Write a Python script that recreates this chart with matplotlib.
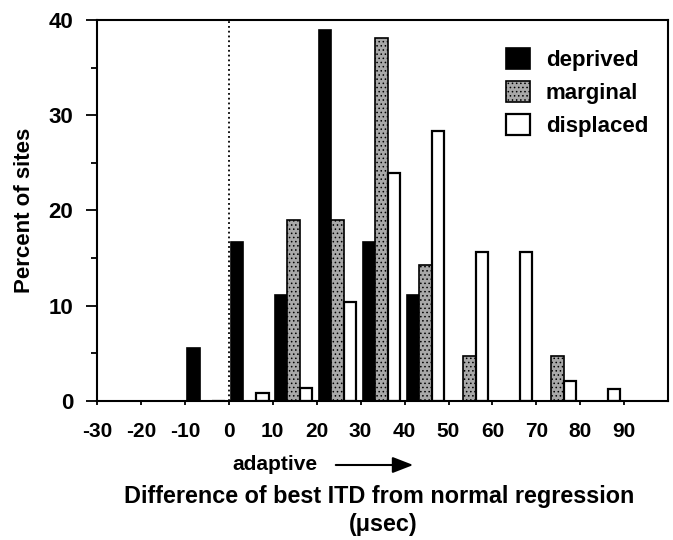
import numpy as np
import matplotlib
matplotlib.use('Agg')
import matplotlib.pyplot as plt
from matplotlib.ticker import MultipleLocator

# bin starts (usec) and percent of sites in each bin
bins = [-10, 0, 10, 20, 30, 40, 50, 60, 70, 80]
deprived = [5.6, 16.7, 11.1, 38.9, 16.7, 11.1, 0, 0, 0, 0]
marginal = [0, 0, 19.05, 19.05, 38.1, 14.3, 4.76, 0, 4.76, 0]
displaced = [0, 0.8, 1.4, 10.4, 23.9, 28.3, 15.6, 15.6, 2.1, 1.3]

labels = ['deprived', 'marginal', 'displaced']
xticks = list(range(-30, 100, 10))

plt.rcParams['font.family'] = ['Liberation Sans', 'DejaVu Sans']
plt.rcParams['font.weight'] = 'bold'
plt.rcParams['hatch.linewidth'] = 0.6
plt.rcParams['hatch.color'] = '#555555'

fig = plt.figure(figsize=(6.73, 5.40), dpi=100)
ax = fig.add_axes([0.144, 0.2574, 0.849, 0.7056])

x = np.array(bins, dtype=float)
w = 2.85
ax.bar(x + 0.5, deprived, width=w, align='edge', color='black',
       edgecolor='black', linewidth=1.2, label=labels[0])
ax.bar(x + 0.5 + w, marginal, width=w, align='edge', facecolor='#a8a8a8',
       edgecolor='black', linewidth=1.2, hatch='....', label=labels[1])
ax.bar(x + 0.5 + 2 * w, displaced, width=w, align='edge', color='white',
       edgecolor='black', linewidth=1.6, label=labels[2])

ax.axvline(0, color='black', linestyle=':', linewidth=1.3)

ax.set_xlim(-30, 100)
ax.set_ylim(0, 40)
ax.set_xticks(xticks)
ax.set_xticklabels([str(t) for t in xticks], fontsize=15, fontweight='bold')
ax.set_yticks([0, 10, 20, 30, 40])
ax.set_yticklabels(['0', '10', '20', '30', '40'], fontsize=16, fontweight='bold')
ax.yaxis.set_minor_locator(MultipleLocator(5))
ax.tick_params(axis='y', which='major', length=8, width=1.3, direction='out', pad=9)
ax.tick_params(axis='y', which='minor', length=4, width=1.3, direction='out')
ax.tick_params(axis='x', which='major', length=3, width=1.3, direction='out', pad=12)
for s in ax.spines.values():
    s.set_linewidth(1.5)

ax.set_ylabel('Percent of sites', fontsize=16, fontweight='bold', labelpad=10)

leg = ax.legend(loc='upper right', bbox_to_anchor=(1.0, 0.98), frameon=False,
                prop={'size': 16, 'weight': 'bold'}, handlelength=1.1,
                handleheight=1.1, labelspacing=0.45, handletextpad=0.7)

# "adaptive" direction arrow under the axis
fig.text(232 / 673, 1 - 465 / 540, 'adaptive', fontsize=15, fontweight='bold',
         va='center', ha='left')
fig.add_artist(matplotlib.patches.FancyArrowPatch(
    (333 / 673, 1 - 465 / 540), (416 / 673, 1 - 465 / 540),
    transform=fig.transFigure, arrowstyle='-|>,head_length=0.9,head_width=0.35',
    color='black', linewidth=1.5, mutation_scale=14))

fig.text(379 / 673, 1 - 497 / 540, 'Difference of best ITD from normal regression',
         fontsize=16.8, fontweight='bold', ha='center', va='center')
fig.text(383 / 673, 1 - 525 / 540, '(\u03bcsec)', fontsize=16.8, fontweight='bold',
         ha='center', va='center')

fig.savefig('out.png', dpi=100)
